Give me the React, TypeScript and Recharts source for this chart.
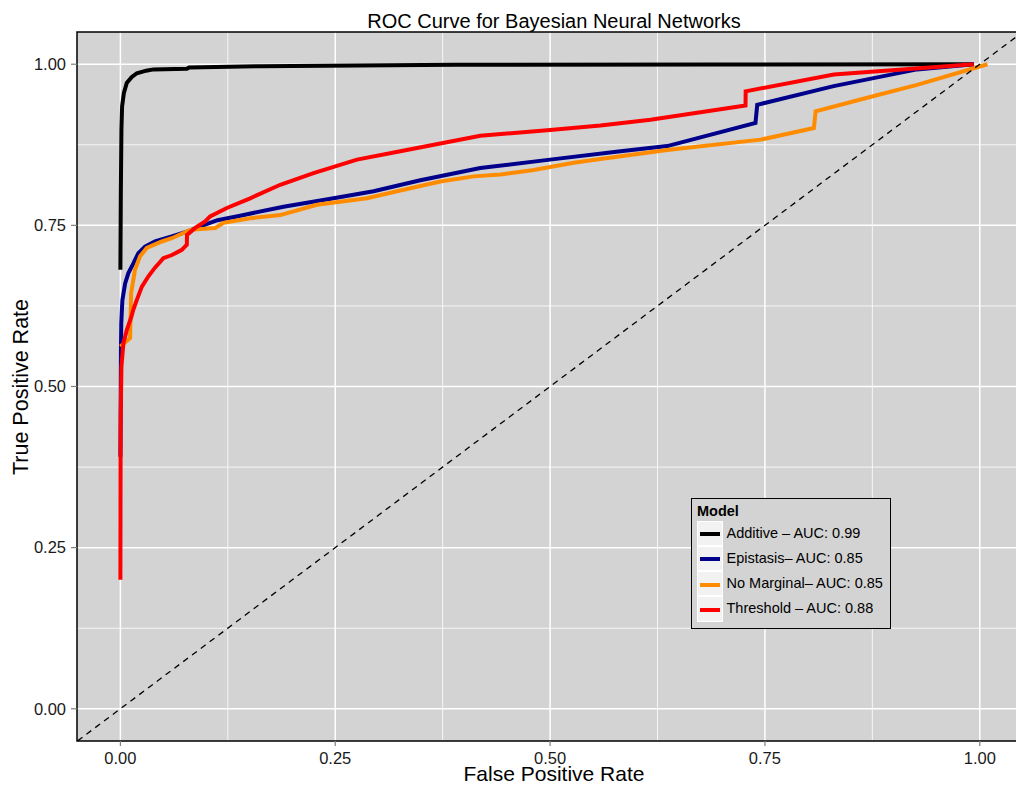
import {
  CartesianGrid,
  Legend,
  Line,
  LineChart,
  ReferenceArea,
  XAxis,
  YAxis,
} from "recharts";

const FONT = '"Liberation Sans", Arial, Helvetica, sans-serif';

// axis ticks (major) and the minor grid in between
const majorTicks = [0, 0.25, 0.5, 0.75, 1];
const minorTicks = [0.125, 0.375, 0.625, 0.875];

// Additive – AUC 0.99
const additiveFpr = [0, 0.0005, 0.0012, 0.002, 0.004, 0.0074, 0.013, 0.0191, 0.03, 0.0385, 0.0774, 0.08, 0.1628, 0.39, 0.7, 0.993];
const additiveTpr = [0.681, 0.8, 0.9, 0.935, 0.955, 0.971, 0.98, 0.986, 0.99, 0.992, 0.993, 0.995, 0.997, 0.999, 0.9995, 1.0];

// Epistasis – AUC 0.85
const epistasisFpr = [0, 0.0003, 0.0006, 0.001, 0.0023, 0.0055, 0.0093, 0.0151, 0.0209, 0.0287, 0.0403, 0.0598, 0.0791, 0.0986, 0.113, 0.1394, 0.1898, 0.248, 0.2946, 0.349, 0.4188, 0.5, 0.5819, 0.6363, 0.739, 0.741, 0.83, 0.927, 0.993];
const epistasisTpr = [0.391, 0.448, 0.552, 0.598, 0.634, 0.66, 0.676, 0.691, 0.707, 0.717, 0.725, 0.733, 0.741, 0.751, 0.758, 0.765, 0.779, 0.792, 0.803, 0.82, 0.839, 0.852, 0.865, 0.873, 0.909, 0.937, 0.966, 0.992, 1.0];

// No Marginal – AUC 0.85
const noMarginalFpr = [0, 0.0113, 0.0125, 0.017, 0.0229, 0.0307, 0.0482, 0.0598, 0.0812, 0.1103, 0.12, 0.151, 0.186, 0.2287, 0.2869, 0.3257, 0.3723, 0.4111, 0.4422, 0.4809, 0.5275, 0.5586, 0.6363, 0.745, 0.807, 0.809, 0.869, 0.927, 1.009];
const noMarginalTpr = [0.562, 0.575, 0.645, 0.681, 0.702, 0.715, 0.725, 0.73, 0.743, 0.746, 0.754, 0.761, 0.766, 0.782, 0.792, 0.804, 0.818, 0.826, 0.829, 0.836, 0.847, 0.853, 0.867, 0.883, 0.901, 0.927, 0.948, 0.968, 1.0];

// Threshold – AUC 0.88
const thresholdFpr = [0, 0.0003, 0.0012, 0.0035, 0.0075, 0.0125, 0.015, 0.019, 0.025, 0.0326, 0.04, 0.05, 0.06, 0.0715, 0.0773, 0.0775, 0.087, 0.0986, 0.1044, 0.1239, 0.151, 0.186, 0.2247, 0.2753, 0.3257, 0.4188, 0.5, 0.5586, 0.6168, 0.7274, 0.7276, 0.8302, 0.993];
const thresholdTpr = [0.2, 0.45, 0.531, 0.567, 0.588, 0.607, 0.619, 0.634, 0.655, 0.671, 0.684, 0.699, 0.704, 0.712, 0.72, 0.735, 0.746, 0.756, 0.764, 0.777, 0.792, 0.813, 0.831, 0.852, 0.865, 0.889, 0.898, 0.905, 0.914, 0.936, 0.958, 0.984, 1.0];

const seriesNames = [
  "Additive \u2013 AUC: 0.99",
  "Epistasis\u2013 AUC: 0.85",
  "No Marginal\u2013 AUC: 0.85",
  "Threshold \u2013 AUC: 0.88",
];
const seriesColors = ["#000000", "#00008B", "#FF8C00", "#FF0000"];

const diagonal = [-0.06, 1.07];

const zip = (xs: number[], ys: number[]) => xs.map((x, i) => ({ x, y: ys[i] }));

const series = [
  zip(additiveFpr, additiveTpr),
  zip(epistasisFpr, epistasisTpr),
  zip(noMarginalFpr, noMarginalTpr),
  zip(thresholdFpr, thresholdTpr),
];

const fmt = (v: number) => v.toFixed(2);

function ModelLegend({ payload }: any) {
  const items = (payload || []).filter((p: any) => p.type !== "none");
  return (
    <div
      style={{
        position: "relative",
        width: 200,
        height: 131,
        boxSizing: "border-box",
        border: "1.5px solid #000",
        background: "#D3D3D3",
        fontFamily: FONT,
        color: "#000",
      }}
    >
      <div
        style={{
          position: "absolute",
          left: 5,
          top: 3,
          fontSize: 14.5,
          fontWeight: "bold",
          lineHeight: "18px",
        }}
      >
        Model
      </div>
      {items.map((item: any, i: number) => (
        <div
          key={item.value}
          style={{ position: "absolute", left: 4.5, top: 21.5 + i * 25.3, height: 25.3, width: 190 }}
        >
          <div
            style={{
              position: "absolute",
              left: 0,
              top: 0,
              width: 26,
              height: 25.3,
              boxSizing: "border-box",
              border: "1px solid #fff",
              background: "#F2F2F2",
            }}
          >
            <div
              style={{
                position: "absolute",
                left: 2.5,
                top: 10.6,
                width: 20,
                height: 4,
                background: item.color,
              }}
            />
          </div>
          <div
            style={{
              position: "absolute",
              left: 30,
              top: 3,
              fontSize: 14.5,
              lineHeight: "19px",
              whiteSpace: "nowrap",
            }}
          >
            {item.value}
          </div>
        </div>
      ))}
    </div>
  );
}

export default function App() {
  const tickStyle = { fontSize: 16.5, fill: "#1A1A1A", fontFamily: FONT };
  return (
    <div
      style={{
        position: "absolute",
        left: 0,
        top: 0,
        width: 1016,
        height: 786,
        overflow: "hidden",
        background: "#fff",
      }}
    >
      <LineChart width={1031} height={786} margin={{ top: 32, right: 0, left: 0, bottom: 0 }}>
        <CartesianGrid
          fill="#D3D3D3"
          stroke="#FFFFFF"
          strokeWidth={0.8}
          verticalValues={minorTicks}
          horizontalValues={minorTicks}
        />
        <CartesianGrid
          stroke="#FFFFFF"
          strokeWidth={1.5}
          verticalValues={majorTicks}
          horizontalValues={majorTicks}
        />
        <XAxis
          type="number"
          dataKey="x"
          domain={[-0.0505, 1.0596]}
          allowDataOverflow
          ticks={majorTicks}
          tickFormatter={fmt}
          height={45}
          axisLine={false}
          tickLine={{ stroke: "#7F7F7F", strokeWidth: 1.2 }}
          tickSize={5}
          tickMargin={6}
          tick={tickStyle}
        />
        <YAxis
          type="number"
          dataKey="y"
          domain={[-0.05, 1.05]}
          allowDataOverflow
          ticks={majorTicks}
          tickFormatter={fmt}
          width={77}
          axisLine={false}
          tickLine={{ stroke: "#7F7F7F", strokeWidth: 1.2 }}
          tickSize={6}
          tickMargin={5}
          tick={tickStyle}
        />
        {series.map((data, i) => (
          <Line
            key={seriesNames[i]}
            data={data}
            dataKey="y"
            name={seriesNames[i]}
            stroke={seriesColors[i]}
            strokeWidth={4}
            dot={false}
            activeDot={false}
            isAnimationActive={false}
          />
        ))}
        <Line
          data={zip(diagonal, diagonal)}
          dataKey="y"
          name="diagonal"
          stroke="#000"
          strokeWidth={1.3}
          strokeDasharray="6 5"
          dot={false}
          activeDot={false}
          legendType="none"
          isAnimationActive={false}
        />
        <ReferenceArea
          x1={-0.0505}
          x2={1.0596}
          y1={-0.05}
          y2={1.05}
          fill="none"
          stroke="#000"
          strokeWidth={1.5}
        />
        <Legend
          layout="vertical"
          align="center"
          verticalAlign="middle"
          wrapperStyle={{ left: 691, top: 498, width: 200, height: 131 }}
          content={(props: any) => <ModelLegend payload={props.payload} />}
        />
      </LineChart>
      <svg
        width={1016}
        height={786}
        style={{ position: "absolute", left: 0, top: 0, pointerEvents: "none" }}
      >
        <text x={554} y={28} textAnchor="middle" fontSize={20} fontFamily={FONT} fill="#000">
          ROC Curve for Bayesian Neural Networks
        </text>
        <text x={554} y={781} textAnchor="middle" fontSize={21} fontFamily={FONT} fill="#000">
          False Positive Rate
        </text>
        <text
          x={0}
          y={0}
          transform="translate(28 387) rotate(-90)"
          textAnchor="middle"
          fontSize={21.5}
          fontFamily={FONT}
          fill="#000"
        >
          True Positive Rate
        </text>
      </svg>
    </div>
  );
}
